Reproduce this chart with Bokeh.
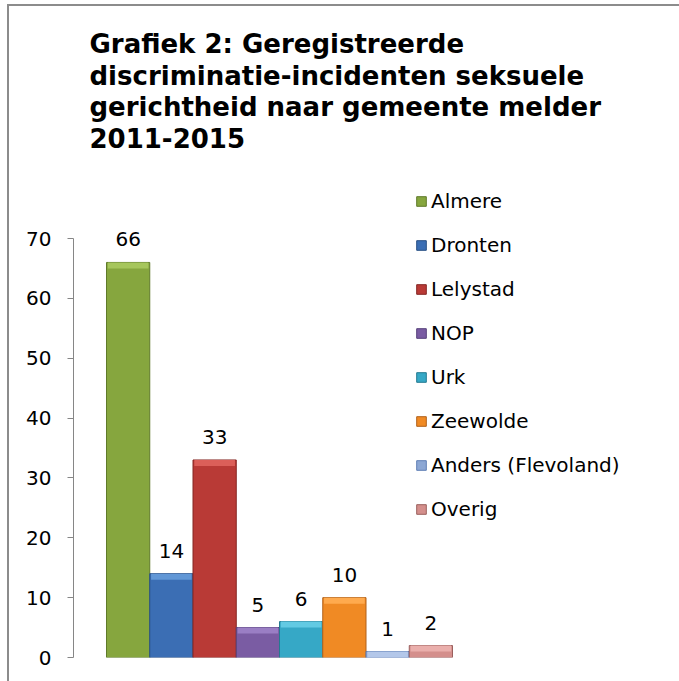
from bokeh.plotting import figure
from bokeh.models import ColumnDataSource, Range1d, SingleIntervalTicker, Legend, LegendItem, Title
from bokeh.core.properties import value
from bokeh.embed import file_html
from bokeh.resources import INLINE

categories = ["Almere", "Dronten", "Lelystad", "NOP", "Urk", "Zeewolde", "Anders (Flevoland)", "Overig"]
values = [66, 14, 33, 5, 6, 10, 1, 2]
colors = ["#86A63E", "#3B6EB4", "#B93A36", "#7A5CA3", "#36A8C6", "#F08A24", "#8CA7D4", "#D48F8C"]
light_colors = ["#A6C65C", "#6197D6", "#DB5F59", "#9A7EC4", "#62CAE3", "#FFAA4E", "#B3C7E9", "#EAAFAC"]
edges = ["#5F7A2A", "#294F84", "#842623", "#55407A", "#237A91", "#B0611A", "#5F7FB5", "#9A5F5D"]
title_lines = ["Grafiek 2: Geregistreerde", "discriminatie-incidenten seksuele",
               "gerichtheid naar gemeente melder", "2011-2015"]
y_axis_max = 70
y_tick_interval = 10

# layout (pixels)
FRAME_W, FRAME_H = 606, 499
AXIS_PX = 419          # pixel height of the 0..70 axis
BAR_PX = 43.25         # pixel width of one bar
LEFT_GAP_PX = 33       # gap between axis and first bar
BEVEL_PX = 6

y_end = y_axis_max * FRAME_H / AXIS_PX
x_start = -0.5 - LEFT_GAP_PX / BAR_PX
x_end = x_start + FRAME_W / BAR_PX
bevel = BEVEL_PX * y_axis_max / AXIS_PX

x = list(range(len(categories)))
src = ColumnDataSource(dict(
    x=x, top=values, cat=categories, color=colors, light=light_colors, edge=edges,
    band_bottom=[max(0, v - bevel) for v in values],
    label=[str(v) for v in values]))

p = figure(width=670, height=675, frame_width=FRAME_W, frame_height=FRAME_H,
           min_border_left=64, min_border_top=152, min_border_bottom=24, min_border_right=0,
           x_range=Range1d(x_start, x_end), y_range=Range1d(0, y_end),
           output_backend="svg", toolbar_location=None, title=None)
p.styles = {"margin-left": "7px", "margin-top": "4px",
            "border-left": "2px solid #8C8C8C", "border-top": "2px solid #8C8C8C"}

t = Title(text="\n".join(title_lines), align="left", offset=16,
          text_font="DejaVu Sans", text_font_size="26px", text_font_style="bold",
          text_color="#000000", text_line_height=1.05)
p.add_layout(t, "above")

bars = p.vbar(x="x", top="top", bottom=0, width=1.0, source=src,
              fill_color="color", line_color="edge", line_width=1)
p.vbar(x="x", top="top", bottom="band_bottom", width=0.94, source=src,
       fill_color="light", line_color=None)

p.text(x="x", y="top", text="label", source=src, text_align="center",
       text_baseline="alphabetic", y_offset=-23,
       text_font=value("DejaVu Sans"), text_font_size="20px", text_color="#000000")

p.xaxis.visible = False
p.xgrid.visible = False
p.ygrid.visible = False
p.outline_line_color = None

ax = p.yaxis[0]
ax.ticker = SingleIntervalTicker(interval=y_tick_interval)
ax.bounds = (0, y_axis_max)
ax.axis_line_color = "#868686"
ax.major_tick_line_color = "#868686"
ax.major_tick_out = 6
ax.major_tick_in = 0
ax.minor_tick_line_color = None
ax.major_label_standoff = 16
ax.major_label_text_font = "DejaVu Sans"
ax.major_label_text_font_size = "20px"
ax.major_label_text_color = "#000000"

items = [LegendItem(label=c, renderers=[bars], index=i) for i, c in enumerate(categories)]
legend = Legend(items=items, location=(342, 136), padding=0, margin=0,
                border_line_color=None, background_fill_alpha=0,
                glyph_width=12, glyph_height=12, label_height=24, spacing=20,
                label_standoff=4, label_text_font="DejaVu Sans", label_text_font_size="20px",
                label_text_color="#000000")
p.add_layout(legend, "center")

open("out.html", "w").write(file_html(p, INLINE))
